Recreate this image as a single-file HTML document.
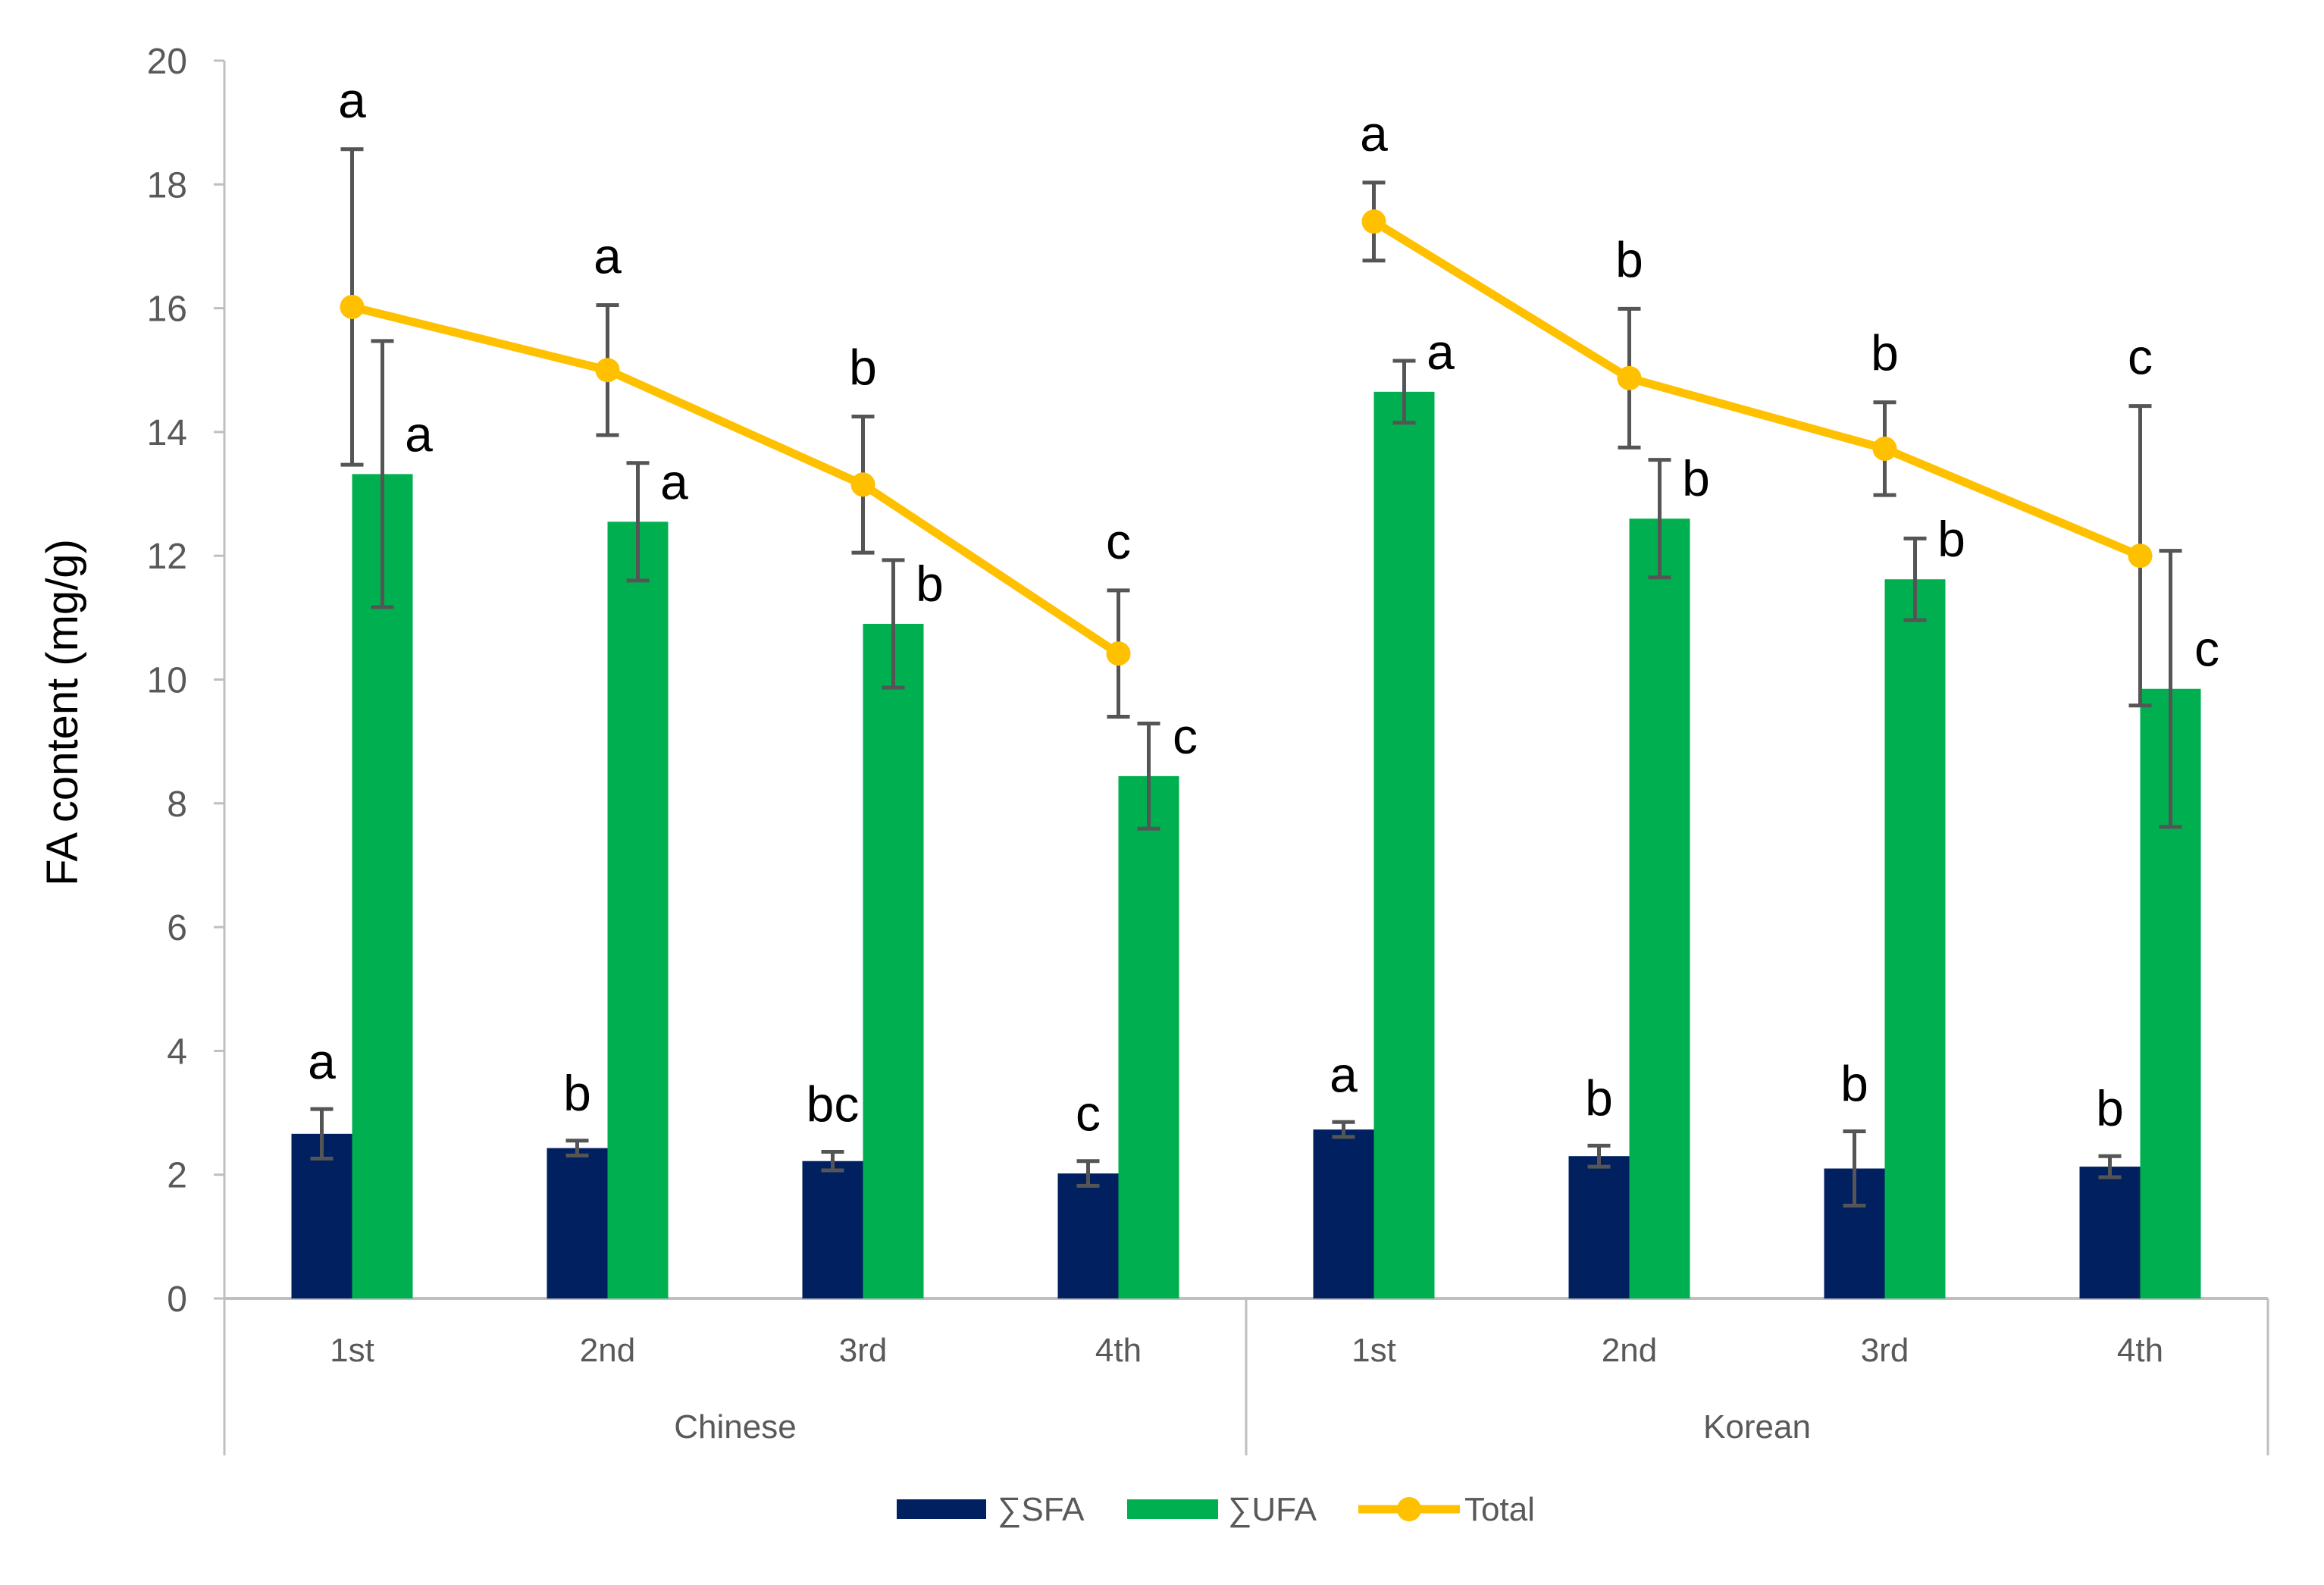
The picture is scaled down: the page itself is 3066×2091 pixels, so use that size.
<!DOCTYPE html>
<html><head><meta charset="utf-8"><style>
html,body{margin:0;padding:0;background:#fff;}
svg{display:block;font-family:"Liberation Sans",sans-serif;}
</style></head><body>
<svg id="chart" width="3066" height="2091" viewBox="0 0 3066 2091" xmlns="http://www.w3.org/2000/svg">
<rect width="3066" height="2091" fill="#fff"/>
<g id="axes"></g>
<g id="bars"></g>
<g id="line"></g>
<g id="labels"></g>
<text transform="translate(102,940) rotate(-90)" text-anchor="middle" font-size="58" fill="#000">FA content (mg/g)</text>
<g>
  <g>
    <rect x="1183" y="1978" width="118" height="26" fill="#002060"/>
    <text x="1316" y="2006" font-size="44" fill="#595959">∑SFA</text>
  </g>
  <g>
    <rect x="1487" y="1978" width="120" height="26" fill="#00B050"/>
    <text x="1620" y="2006" font-size="44" fill="#595959">∑UFA</text>
  </g>
  <g>
    <line x1="1792" y1="1991" x2="1926" y2="1991" stroke="#FFC000" stroke-width="11"/>
    <circle cx="1859" cy="1991" r="16" fill="#FFC000"/>
    <text x="1932" y="2006" font-size="44" fill="#595959">Total</text>
  </g>
</g>
</svg>
<script>
const categories = ["1st","2nd","3rd","4th","1st","2nd","3rd","4th"];
const groups = ["Chinese","Korean"];
const yTicks = [0,2,4,6,8,10,12,14,16,18,20];
const sfa = [2.66,2.43,2.22,2.02,2.73,2.30,2.10,2.13];
const sfaErr = [0.40,0.12,0.15,0.20,0.12,0.17,0.60,0.17];
const sfaLetters = ["a","b","bc","c","a","b","b","b"];
const ufa = [13.32,12.55,10.90,8.44,14.65,12.60,11.62,9.85];
const ufaErr = [2.15,0.95,1.03,0.85,0.50,0.95,0.66,2.23];
const ufaLetters = ["a","a","b","c","a","b","b","c"];
const total = [16.02,15.00,13.15,10.42,17.40,14.87,13.73,12.00];
const totalErr = [2.55,1.05,1.10,1.02,0.63,1.12,0.75,2.42];
const totalLetters = ["a","a","b","c","a","b","b","c"];

const NS="http://www.w3.org/2000/svg";
const X0=296, X1=2992, Y0=1713, YMAX=80, VMAX=20;
const step=(X1-X0)/categories.length;
const barW=80;
function y(v){return Y0-(v/VMAX)*(Y0-YMAX);}
function cx(i){return X0+step*(i+0.5);}
function mk(tag,attrs,parent){const e=document.createElementNS(NS,tag);for(const k in attrs)e.setAttribute(k,attrs[k]);parent.appendChild(e);return e;}
const axes=document.getElementById('axes'),bars=document.getElementById('bars'),lineG=document.getElementById('line'),lab=document.getElementById('labels');

let ya=mk('line',{x1:X0,y1:YMAX,x2:X0,y2:1920,stroke:'#bfbfbf','stroke-width':3},axes);


yTicks.forEach(t=>{
  let tk=mk('line',{x1:X0-14,y1:y(t),x2:X0,y2:y(t),stroke:'#bfbfbf','stroke-width':3},axes);
  
  
  let tl=mk('text',{x:247,y:y(t)+17,'text-anchor':'end','font-size':48,fill:'#595959'},axes);
  tl.textContent=t;
  
  
});
let xa=mk('line',{x1:X0,y1:Y0,x2:X1,y2:Y0,stroke:'#bfbfbf','stroke-width':4},axes);


[X0,(X0+X1)/2,X1].forEach(xx=>{
  let d=mk('line',{x1:xx,y1:Y0,x2:xx,y2:1920,stroke:'#bfbfbf','stroke-width':3},axes);
  
  
});
categories.forEach((c,i)=>{
  let t=mk('text',{x:cx(i),y:1796,'text-anchor':'middle','font-size':44,fill:'#595959'},axes);
  t.textContent=c;
  
  
});
groups.forEach((g,j)=>{
  const half=(X1-X0)/groups.length;
  let t=mk('text',{x:X0+half*(j+0.5),y:1897,'text-anchor':'middle','font-size':44,fill:'#595959'},axes);
  t.textContent=g;
  
  
});

function errBar(xx,v,e,parent){
  const g=mk('g',{stroke:'#555555','stroke-width':5},parent);
  
  
  mk('line',{x1:xx,y1:y(v+e),x2:xx,y2:y(v-e)},g);
  mk('line',{x1:xx-15,y1:y(v+e),x2:xx+15,y2:y(v+e)},g);
  mk('line',{x1:xx-15,y1:y(v-e),x2:xx+15,y2:y(v-e)},g);
}
function letter(xx,yy,s){
  let t=mk('text',{x:xx,y:yy,'text-anchor':'middle','font-size':66,fill:'#000'},lab);
  t.textContent=s;
  
  
}
categories.forEach((c,i)=>{
  const c0=cx(i);
  let b1=mk('rect',{x:c0-barW,y:y(sfa[i]),width:barW,height:Y0-y(sfa[i]),fill:'#002060'},bars);
  
  
  let b2=mk('rect',{x:c0,y:y(ufa[i]),width:barW,height:Y0-y(ufa[i]),fill:'#00B050'},bars);
  
  
  errBar(c0-barW/2,sfa[i],sfaErr[i],bars);
  errBar(c0+barW/2,ufa[i],ufaErr[i],bars);
  letter(c0-barW/2,y(sfa[i]+sfaErr[i])-40,sfaLetters[i]);
  letter(c0+barW+8,y(ufa[i])-30,ufaLetters[i]);
});
const per=categories.length/groups.length;
for(let g=0;g<groups.length;g++){
  let pts=[];
  for(let i=g*per;i<(g+1)*per;i++)pts.push(cx(i)+','+y(total[i]));
  let pl=mk('polyline',{points:pts.join(' '),fill:'none',stroke:'#FFC000','stroke-width':11,'stroke-linejoin':'round'},lineG);
  
  
}
total.forEach((v,i)=>{
  errBar(cx(i),v,totalErr[i],lineG);
  let p=mk('circle',{cx:cx(i),cy:y(v),r:16,fill:'#FFC000'},lineG);
  
  
  letter(cx(i),y(v+totalErr[i])-42,totalLetters[i]);
});
</script>
</body></html>
